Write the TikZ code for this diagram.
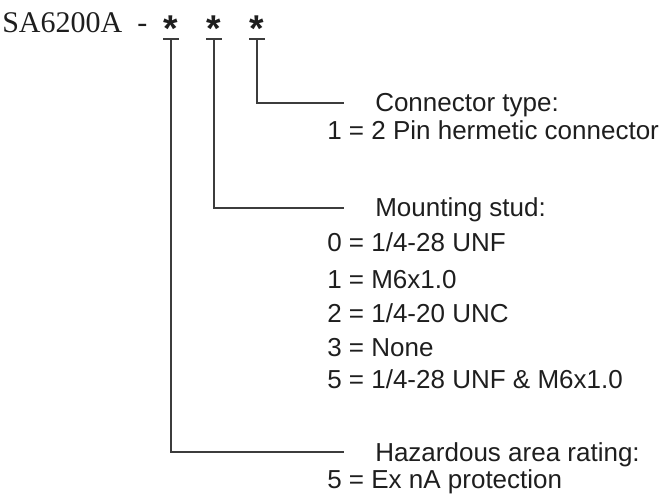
\documentclass[tikz,border=0pt]{standalone}
\usepackage{fontspec}
\setmainfont{Liberation Sans}
\newfontfamily\titlefont{Liberation Serif}
\usepackage{xcolor}

\definecolor{leadgray}{HTML}{3C3C3C}
\definecolor{inkblack}{HTML}{1E1E1E}

\tikzset{
  lead/.style={draw=leadgray,line width=1.1pt},
  head/.style={anchor=west,inner sep=0pt,text height=13.5pt,text depth=0pt,
    text=inkblack,font=\fontsize{19.5}{22}\selectfont},
  item/.style={anchor=base west,inner sep=0pt,text=inkblack,
    font=\fontsize{19.5}{22}\selectfont},
  starmark/.style={anchor=north,inner sep=0pt,text=inkblack,
    font=\fontsize{28}{30}\selectfont\bfseries}
}

\begin{document}
\begin{tikzpicture}[x=0.75pt,y=-0.75pt]
            \useasboundingbox (0,0) rectangle (660,502);

            \node (code) at (2,33) [anchor=base west,inner sep=0pt,text=inkblack,
              font=\titlefont\fontsize{22.5}{24}\selectfont] {SA6200A\hspace{0.5em}-};

            \node (s1) at (171,16) [starmark] {*};
            \node (s2) at (214,16) [starmark] {*};
            \node (s3) at (257,16) [starmark] {*};

            \coordinate (t1) at (171,39);
            \coordinate (t2) at (214,39);
            \coordinate (t3) at (257,39);

            % connector type
            \node (ct) at (375,103) [head] {Connector type:};
            \node (ct1) at (327,140) [item] {1 = 2 Pin hermetic connector};

            % mounting stud
            \node (ms) at (375,208) [head] {Mounting stud:};
            \node (ms0) at (327,252) [item] {0 = 1/4-28 UNF};
            \node (ms1) at (327,288) [item] {1 = M6x1.0};
            \node (ms2) at (327,322) [item] {2 = 1/4-20 UNC};
            \node (ms3) at (327,356) [item] {3 = None};
            \node (ms5) at (327,388) [item] {5 = 1/4-28 UNF \& M6x1.0};

            % hazardous area
            \node (hz) at (375,452) [head] {Hazardous area rating:};
            \node (hz5) at (327,488) [item] {5 = Ex nA protection};

            \draw[lead] ([xshift=-6pt]t1) -- ([xshift=6pt]t1);
            \draw[lead] ([xshift=-6pt]t2) -- ([xshift=6pt]t2);
            \draw[lead] ([xshift=-6pt]t3) -- ([xshift=6pt]t3);

            \draw[lead] (t3) |- ([xshift=-23pt]ct.west);
            \draw[lead] (t2) |- ([xshift=-23pt]ms.west);
            \draw[lead] (t1) |- ([xshift=-23pt]hz.west);

        \end{tikzpicture}
\end{document}
